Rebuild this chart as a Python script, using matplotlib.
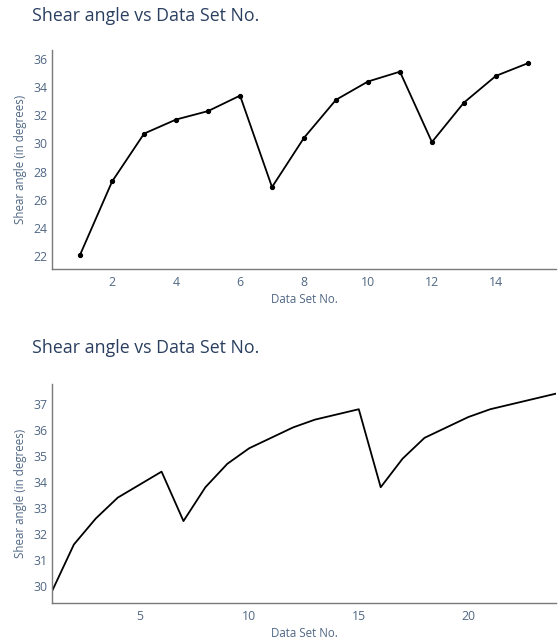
"""Shear angle vs data set number, two panels."""

import matplotlib
matplotlib.use("Agg")
import matplotlib.pyplot as plt

plt.rcParams["font.family"] = ["Open Sans", "DejaVu Sans"]

# top panel: 15 data sets, line with markers
set_no_a = list(range(1, 16))
shear_a = [22.1, 27.3, 30.7, 31.7, 32.3, 33.4, 26.9, 30.4, 33.1, 34.4, 35.1, 30.1, 32.9, 34.8, 35.7]
xticks_a = [2, 4, 6, 8, 10, 12, 14]
yticks_a = [22, 24, 26, 28, 30, 32, 34, 36]

# bottom panel: 24 data sets, line only
set_no_b = list(range(1, 25))
shear_b = [29.8, 31.6, 32.6, 33.4, 33.9, 34.4, 32.5, 33.8, 34.7, 35.3, 35.7, 36.1,
           36.4, 36.6, 36.8, 33.8, 34.9, 35.7, 36.1, 36.5, 36.8, 37.0, 37.2, 37.4]
xticks_b = [5, 10, 15, 20]
yticks_b = [30, 31, 32, 33, 34, 35, 36, 37]

TITLE = "Shear angle vs Data Set No."
XLABEL = "Data Set No."
YLABEL = "Shear angle (in degrees)"

W, H = 558, 644
title_color = "#2a3f5f"
tick_color = "#506784"
spine_color = "#7a7a7a"


def style_axes(ax, xticks, yticks):
    for side in ("top", "right"):
        ax.spines[side].set_visible(False)
    for side in ("left", "bottom"):
        ax.spines[side].set_color(spine_color)
        ax.spines[side].set_linewidth(1.0)
    ax.set_xticks(xticks)
    ax.set_yticks(yticks)
    ax.tick_params(axis="both", length=0, labelsize=8.8, colors=tick_color)
    ax.tick_params(axis="x", pad=5)
    ax.tick_params(axis="y", pad=3)
    ax.set_xlabel(XLABEL, fontsize=8.3, color=tick_color, labelpad=3)
    ax.set_ylabel(YLABEL, fontsize=8.3, color=tick_color, labelpad=5)


fig = plt.figure(figsize=(W / 100, H / 100), dpi=100)

ax1 = fig.add_axes([52 / W, 1 - 269 / H, (556 - 52) / W, (269 - 50) / H])
ax1.plot(set_no_a, shear_a, color="black", linewidth=1.3, marker="o", markersize=2.8)
ax1.set_xlim(0.12, 15.88)
ax1.set_ylim(21.08, 36.64)
style_axes(ax1, xticks_a, yticks_a)

ax2 = fig.add_axes([52 / W, 1 - 602.7 / H, (556 - 52) / W, (602.7 - 384) / H])
ax2.plot(set_no_b, shear_b, color="black", linewidth=1.3)
ax2.set_xlim(1, 24)
ax2.set_ylim(29.36, 37.77)
style_axes(ax2, xticks_b, yticks_b)

fig.text(32 / W, 1 - 7 / H, TITLE, fontsize=12.8, color=title_color, va="top", ha="left")
fig.text(32 / W, 1 - 339 / H, TITLE, fontsize=12.8, color=title_color, va="top", ha="left")

fig.savefig("out.png", dpi=100, facecolor="white")
plt.close(fig)
